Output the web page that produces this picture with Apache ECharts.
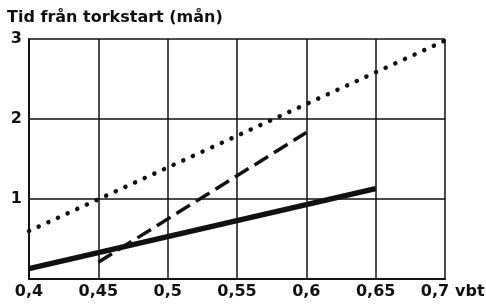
<!DOCTYPE html>
<html>
<head>
<meta charset="utf-8">
<script src="https://cdn.jsdelivr.net/npm/echarts@6/dist/echarts.min.js"></script>
<style>
  html, body { margin: 0; padding: 0; background: #fff; }
  #chart { width: 486px; height: 307px; }
</style>
</head>
<body>
<div id="chart"></div>
<script>
// värden
const solidX = [0.4, 0.65]
const solidY = [0.13, 1.13]
const dashedX = [0.45, 0.6]
const dashedY = [0.21, 1.83]
const dottedX = [0.4, 0.7]
const dottedY = [0.6, 2.98]
const yTicks = [0, 1, 2, 3]

function pairs (xs, ys) {
  return xs.map((x, i) => [x, ys[i]])
}

const font = '"DejaVu Sans", sans-serif'
const chart = echarts.init(document.getElementById('chart'))

chart.setOption({
  animation: false,
  title: {
    text: 'Tid från torkstart (mån)',
    left: 2,
    top: 5,
    textStyle: { fontFamily: font, fontSize: 16, fontWeight: 'bold', color: '#111' }
  },
  grid: { left: 29, right: 41, top: 39, bottom: 28, outerBoundsMode: 'none' },
  xAxis: {
    type: 'value',
    min: 0.4,
    max: 0.7,
    interval: 0.05,
    name: 'vbt',
    nameLocation: 'end',
    nameGap: -2,
    nameTextStyle: { fontFamily: font, fontSize: 16, fontWeight: 'bold', color: '#111', verticalAlign: 'top', padding: [5, 0, 0, 0] },
    axisLine: { lineStyle: { color: '#111', width: 2 } },
    axisTick: { show: false },
    axisLabel: {
      margin: 5,
      fontFamily: font, fontSize: 16, fontWeight: 'bold', color: '#111',
      formatter: v => {
        const s = String(parseFloat(v.toFixed(2))).replace('.', ',')
        return v > 0.69 ? '{r|' + s + '}' : s
      },
      rich: { r: { fontFamily: font, fontSize: 16, fontWeight: 'bold', color: '#111', padding: [0, 20, 0, 0] } }
    },
    splitLine: { show: true, lineStyle: { color: '#111', width: 1.5 } }
  },
  yAxis: {
    type: 'value',
    min: yTicks[0],
    max: yTicks[yTicks.length - 1],
    interval: 1,
    axisLine: { show: true, lineStyle: { color: '#111', width: 2 } },
    axisTick: { show: false },
    axisLabel: {
      margin: 7,
      fontFamily: font, fontSize: 16, fontWeight: 'bold', color: '#111',
      formatter: v => (v === 0 ? '' : String(v))
    },
    splitLine: { show: true, lineStyle: { color: '#111', width: 1.5 } }
  },
  series: [
    {
      type: 'line',
      data: pairs(solidX, solidY),
      showSymbol: false,
      lineStyle: { color: '#111', width: 5.5 }
    },
    {
      type: 'line',
      data: pairs(dashedX, dashedY),
      showSymbol: false,
      lineStyle: { color: '#111', width: 3.5, type: [16, 7] }
    },
    {
      type: 'line',
      data: pairs(dottedX, dottedY),
      showSymbol: false,
      lineStyle: { color: '#111', width: 4.5, type: [0.1, 10.5], cap: 'round' }
    }
  ]
})
</script>
</body>
</html>
